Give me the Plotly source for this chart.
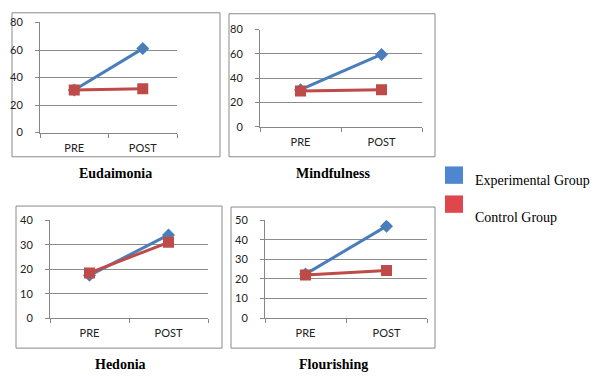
import plotly.graph_objects as go

phases = ["PRE", "POST"]
panels = ["Eudaimonia", "Mindfulness", "Hedonia", "Flourishing"]
experimental = {
    "Eudaimonia": [31, 61],
    "Mindfulness": [30.5, 59.5],
    "Hedonia": [17.5, 34],
    "Flourishing": [22.5, 47],
}
control = {
    "Eudaimonia": [31, 31.8],
    "Mindfulness": [29.5, 30.5],
    "Hedonia": [18.5, 31],
    "Flourishing": [22, 24.3],
}
y_max = {"Eudaimonia": 80, "Mindfulness": 80, "Hedonia": 40, "Flourishing": 50}
y_step = {"Eudaimonia": 20, "Mindfulness": 20, "Hedonia": 10, "Flourishing": 10}
series_names = ["Experimental Group", "Control Group"]

W, H = 600, 386
BLUE = "#4A7EBB"
RED = "#BE4B48"

# plot-area pixel boxes (x0, x1, ytop, ybottom)
plot_px = {
    "Eudaimonia": (40, 177, 16, 130),
    "Mindfulness": (260, 422, 23.3, 124),
    "Hedonia": (50, 208, 220.7, 322),
    "Flourishing": (265, 427, 220.7, 322),
}
box_px = {
    "Eudaimonia": (12, 220, 6, 155),
    "Mindfulness": (229, 435, 7, 155),
    "Hedonia": (16, 222, 206, 353),
    "Flourishing": (231, 435, 207, 353),
}
title_px = {
    "Eudaimonia": (115, 172),
    "Mindfulness": (333, 172),
    "Hedonia": (120, 370),
    "Flourishing": (333, 370),
}

fig = go.Figure()
shapes = []
annotations = []
tickfont = dict(family="Lato, Liberation Sans, sans-serif", size=11, color="#222")

for i, p in enumerate(panels):
    n = "" if i == 0 else str(i + 1)
    xa, ya = "x" + n, "y" + n
    x0, x1, yt, yb = plot_px[p]
    fig.add_trace(go.Scatter(
        x=phases, y=experimental[p], xaxis=xa, yaxis=ya, mode="lines+markers",
        line=dict(color=BLUE, width=3), marker=dict(symbol="diamond", size=10, color=BLUE),
        name=series_names[0], showlegend=False))
    fig.add_trace(go.Scatter(
        x=phases, y=control[p], xaxis=xa, yaxis=ya, mode="lines+markers",
        line=dict(color=RED, width=3), marker=dict(symbol="square", size=11, color=RED),
        name=series_names[1], showlegend=False))
    fig.layout["xaxis" + n] = dict(
        domain=[x0 / W, x1 / W], anchor=ya, type="category", range=[-0.5, 1.5],
        tickson="boundaries", ticks="outside", ticklen=4, tickcolor="#868686",
        showline=True, linecolor="#868686", linewidth=1, showgrid=False,
        tickfont=tickfont, ticklabelstandoff=5, fixedrange=True)
    fig.layout["yaxis" + n] = dict(
        domain=[1 - yb / H, 1 - yt / H], anchor=xa, range=[0, y_max[p]],
        dtick=y_step[p], tick0=0, ticks="outside", ticklen=4, tickcolor="#868686",
        showline=True, linecolor="#868686", linewidth=1,
        showgrid=True, gridcolor="#8c8c8c", gridwidth=1, zeroline=False,
        tickfont=tickfont, ticklabelstandoff=10, fixedrange=True)
    bx0, bx1, byt, byb = box_px[p]
    shapes.append(dict(type="rect", xref="paper", yref="paper",
                       x0=bx0 / W, x1=bx1 / W, y0=1 - byb / H, y1=1 - byt / H,
                       line=dict(color="#8a8a8a", width=1), fillcolor="rgba(0,0,0,0)", layer="below"))
    tx, ty = title_px[p]
    annotations.append(dict(text="<b>%s</b>" % p, x=tx / W, y=1 - ty / H, xref="paper", yref="paper",
                            showarrow=False, xanchor="center", yanchor="middle",
                            font=dict(family="Liberation Serif, Times New Roman, serif", size=14, color="#000")))

# legend
legend_items = [(series_names[0], "#4F86D0", 174, 180), (series_names[1], "#E0474C", 204, 218)]
for name, col, sy, ty in legend_items:
    shapes.append(dict(type="rect", xref="paper", yref="paper",
                       x0=445 / W, x1=463 / W, y0=1 - (sy + 9) / H, y1=1 - (sy - 9) / H,
                       line=dict(width=0), fillcolor=col))
    annotations.append(dict(text=name, x=473 / W, y=1 - ty / H, xref="paper", yref="paper",
                            showarrow=False, xanchor="left", yanchor="middle",
                            font=dict(family="Liberation Serif, Times New Roman, serif", size=14, color="#000")))

fig.update_layout(width=W, height=H, margin=dict(l=0, r=0, t=0, b=0),
                  paper_bgcolor="white", plot_bgcolor="white",
                  shapes=shapes, annotations=annotations, showlegend=False)
fig.write_html("out.html", config={"displayModeBar": False},
               post_script="document.body.style.margin='0';document.body.style.overflow='hidden';")
